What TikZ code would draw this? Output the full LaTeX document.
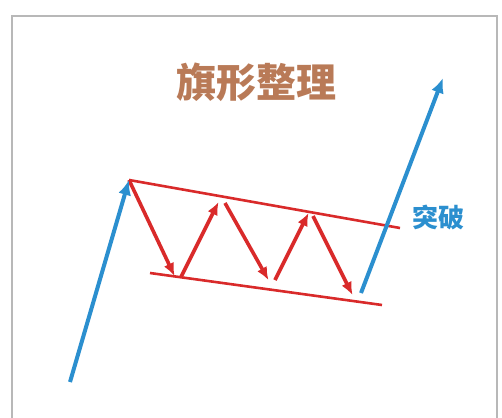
\documentclass[tikz,border=0pt]{standalone}
\usepackage{fontspec}
\newfontfamily\cjk{Noto Sans CJK SC}
\usetikzlibrary{arrows.meta}
\definecolor{fblue}{HTML}{2B8FCF}
\definecolor{fred}{HTML}{D92A2A}
\definecolor{fbrown}{HTML}{B97A57}
\tikzset{
  bluearrow/.style={draw=fblue, line width=4pt, -{Latex[length=15pt,width=13pt]}},
  redarrow/.style={draw=fred, line width=3.6pt, -{Latex[length=13pt,width=11pt]}, shorten >=1pt},
  redline/.style={draw=fred, line width=2.6pt},
}
\begin{document}
\begin{tikzpicture}[x=1pt,y=-1pt]
\useasboundingbox (0,0) rectangle (502,417);
\fill[white] (0,0) rectangle (502,417);
\draw[draw=black!28, line width=1.5pt] (12,430) -- (12,16) -- (497,16) -- (497,430);
% title
\node[font=\cjk\bfseries\fontsize{40}{40}\selectfont, text=fbrown, inner sep=0pt] (title) at (256,82) {旗形整理};
% coordinates
\coordinate (b0) at (70,382);
\coordinate (p0) at (129,180);
\coordinate (u1) at (400,228);
\coordinate (l0) at (150,273);
\coordinate (l1) at (382,305);
\coordinate (v1) at (175,277);
\coordinate (s1) at (181,277);
\coordinate (p1) at (219,201);
\coordinate (s2) at (225,203);
\coordinate (v2) at (269,281);
\coordinate (s3) at (275,280);
\coordinate (p2) at (309,212);
\coordinate (s4) at (313,216);
\coordinate (v3) at (353,296);
\coordinate (b1) at (361,293);
\coordinate (b2) at (443,78);
% channel lines
\draw[redline] (p0) -- (u1);
\draw[redline] (l0) -- (l1);
% zigzag
\draw[redarrow] (p0) -- (v1);
\draw[redarrow] (s1) -- (p1);
\draw[redarrow] (s2) -- (v2);
\draw[redarrow] (s3) -- (p2);
\draw[redarrow] (s4) -- (v3);
% blue arrows
\draw[bluearrow] (b0) -- (p0);
\draw[bluearrow] (b1) -- (b2);
\node[font=\cjk\bfseries\fontsize{26}{26}\selectfont, text=fblue, inner sep=0pt] (brk) at (438,218) {突破};
\end{tikzpicture}
\end{document}
